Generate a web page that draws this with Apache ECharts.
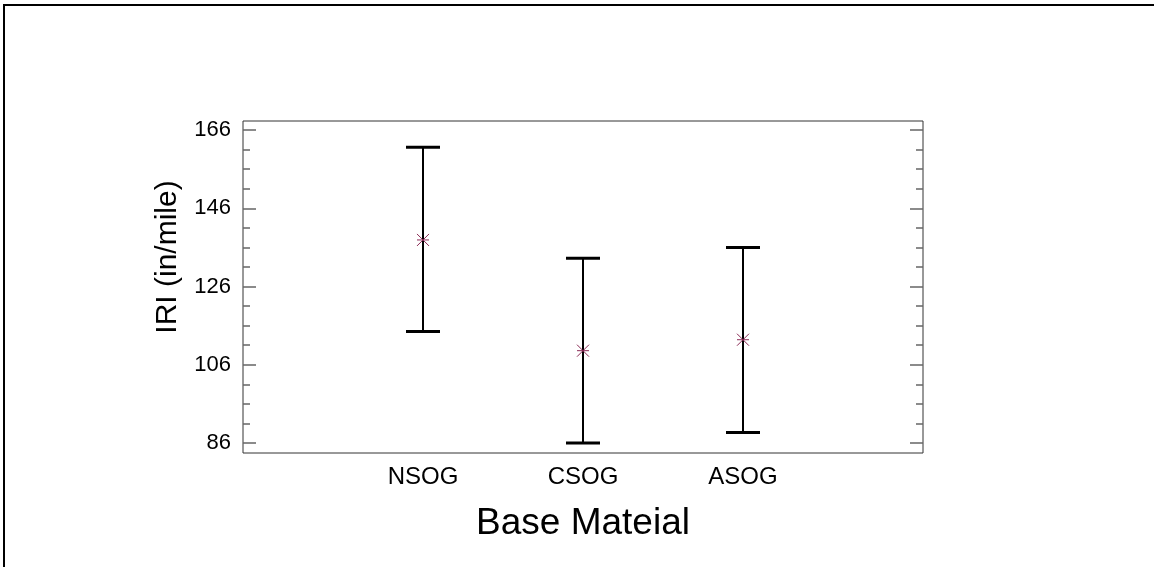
<!DOCTYPE html>
<html>
<head>
<meta charset="utf-8">
<script src="https://cdn.jsdelivr.net/npm/echarts@6/dist/echarts.min.js"></script>
<style>
  html, body { margin: 0; padding: 0; background: #fff; }
  #main { width: 1154px; height: 567px; }
</style>
</head>
<body>
<div id="main"></div>
<script>
// data
var categories = ['NSOG', 'CSOG', 'ASOG'];
var means = [137.9, 109.6, 112.4];
var lower = [114.5, 86.0, 88.7];
var upper = [161.6, 133.2, 136.0];
var yMajor = [86, 106, 126, 146, 166];
var yMinor = [91, 96, 101, 111, 116, 121, 131, 136, 141, 151, 156, 161];

var chart = echarts.init(document.getElementById('main'));

var barData = [];
for (var i = 0; i < categories.length; i++) {
    barData.push([i + 1, means[i], lower[i], upper[i]]);
}

function renderBar(params, api) {
    var x = api.value(0);
    var mid = api.coord([x, api.value(1)]);
    var lo = api.coord([x, api.value(2)]);
    var hi = api.coord([x, api.value(3)]);
    var cap = 17, s = 6;
    var line = { stroke: '#000', lineWidth: 2 };
    var capStyle = { stroke: '#000', lineWidth: 3 };
    var star = { stroke: '#8a2a55', lineWidth: 1 };
    return {
        type: 'group',
        children: [
            { type: 'line', shape: { x1: lo[0], y1: lo[1], x2: hi[0], y2: hi[1] }, style: line },
            { type: 'line', shape: { x1: hi[0] - cap, y1: hi[1], x2: hi[0] + cap, y2: hi[1] }, style: capStyle },
            { type: 'line', shape: { x1: lo[0] - cap, y1: lo[1], x2: lo[0] + cap, y2: lo[1] }, style: capStyle },
            { type: 'line', shape: { x1: mid[0] - s, y1: mid[1] - s, x2: mid[0] + s, y2: mid[1] + s }, style: star },
            { type: 'line', shape: { x1: mid[0] - s, y1: mid[1] + s, x2: mid[0] + s, y2: mid[1] - s }, style: star },
            { type: 'line', shape: { x1: mid[0] - s, y1: mid[1], x2: mid[0] + s, y2: mid[1] }, style: star }
        ]
    };
}

function yAx(pos, ticks, len, withLabel) {
    return {
        type: 'value',
        position: pos,
        min: 83.45,
        max: 168.3,
        axisLine: { show: false, onZero: false },
        splitLine: { show: false },
        axisTick: { show: true, inside: true, length: len, customValues: ticks,
                    lineStyle: { color: '#666', width: 1.5 } },
        axisLabel: withLabel ? { show: true, customValues: ticks, margin: 12,
                    color: '#000', fontSize: 22, fontFamily: 'Liberation Sans' } : { show: false }
    };
}

var yLeft = yAx('left', yMajor, 13, true);
yLeft.name = 'IRI (in/mile)';
yLeft.nameLocation = 'middle';
yLeft.nameGap = 60;
yLeft.nameTextStyle = { color: '#000', fontSize: 30, fontFamily: 'Liberation Sans',
                        padding: [0, 0, 0, 60] };

var option = {
    animation: false,
    backgroundColor: '#fff',
    graphic: [{
        type: 'polyline',
        shape: { points: [[4, 567], [4, 5], [1154, 5]] },
        style: { stroke: '#000', lineWidth: 2, fill: null }
    }],
    grid: { left: 243, right: 231, top: 121, bottom: 114, show: true,
            borderColor: '#333', borderWidth: 1 },
    xAxis: {
        type: 'value',
        min: -0.125,
        max: 4.125,
        axisLine: { show: false, onZero: false },
        axisTick: { show: false },
        splitLine: { show: false },
        axisLabel: {
            customValues: [1, 2, 3],
            formatter: function (v) { return categories[v - 1]; },
            margin: 12, color: '#000', fontSize: 24, fontFamily: 'Liberation Sans'
        },
        name: 'Base Mateial',
        nameLocation: 'middle',
        nameGap: 52,
        nameTextStyle: { color: '#000', fontSize: 37, fontFamily: 'Liberation Sans' }
    },
    yAxis: [
        yLeft,
        yAx('left', yMinor, 7, false),
        yAx('right', yMajor, 13, false),
        yAx('right', yMinor, 7, false)
    ],
    series: [{
        type: 'custom',
        renderItem: renderBar,
        data: barData,
        encode: { x: 0, y: [1, 2, 3] }
    }]
};

chart.setOption(option);
</script>
</body>
</html>
